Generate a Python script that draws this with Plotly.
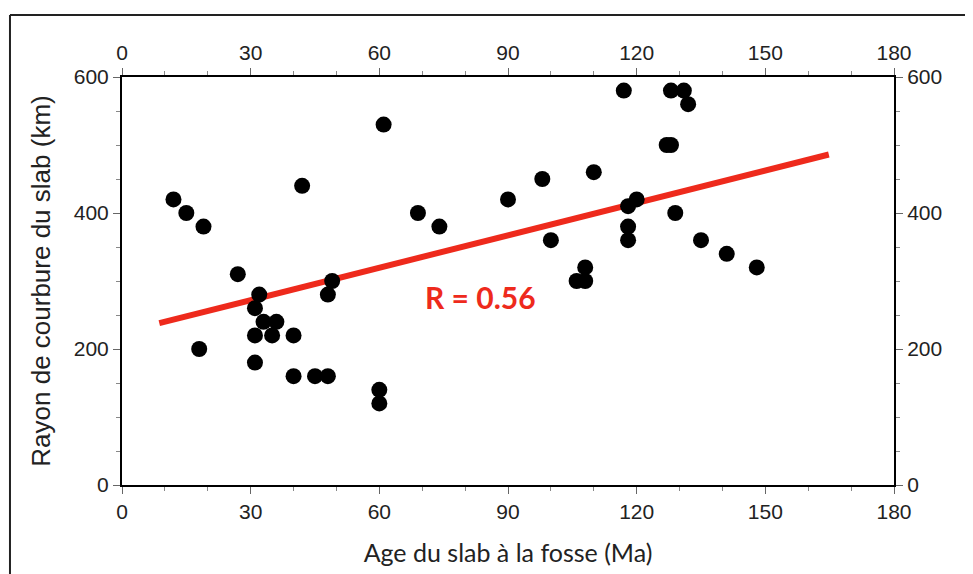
import plotly.graph_objects as go

# Data: age of slab at trench (Ma) and slab curvature radius (km)
age_ma = [12, 15, 19, 18, 27, 32, 31, 33, 36, 31, 35, 40, 31, 40, 45, 48,
          49, 48, 42, 61, 60, 60, 69, 74, 90, 98, 100, 110, 108, 106, 108,
          117, 118, 120, 118, 118, 127, 128, 128, 131, 132, 129, 135, 141, 148]
radius_km = [420, 400, 380, 200, 310, 280, 260, 240, 240, 220, 220, 220, 180, 160, 160, 160,
             300, 280, 440, 530, 140, 120, 400, 380, 420, 450, 360, 460, 320, 300, 300,
             580, 410, 420, 380, 360, 500, 500, 580, 580, 560, 400, 360, 340, 320]

# Regression line end points
fit_x = [8.7, 164.8]
fit_y = [238, 486]

x_ticks = [0, 30, 60, 90, 120, 150, 180]
y_ticks = [0, 200, 400, 600]

x_title = "Age du slab à la fosse (Ma)"
y_title = "Rayon de courbure du slab (km)"
r_label = "R = 0.56"

RED = "#ee2a1c"
TICKFONT = dict(family="Liberation Sans, Arial, sans-serif", size=21, color="#222222")

fig = go.Figure()
fig.add_trace(go.Scatter(x=fit_x, y=fit_y, mode="lines",
                         line=dict(color=RED, width=6), hoverinfo="skip", showlegend=False))
fig.add_trace(go.Scatter(x=age_ma, y=radius_km, mode="markers",
                         marker=dict(color="black", size=16, line=dict(width=0)),
                         showlegend=False))
# invisible trace to anchor top/right axes
fig.add_trace(go.Scatter(x=[None], y=[None], xaxis="x2", yaxis="y2",
                         showlegend=False, hoverinfo="skip"))

axis_common = dict(
    showgrid=False, zeroline=False, showline=True, linecolor="black", linewidth=2,
    ticks="outside", ticklen=7, tickwidth=1, tickcolor="#666666",
    tickfont=TICKFONT,
)

fig.update_layout(
    width=965, height=566,
    margin=dict(l=114, r=79, t=69, b=89),
    paper_bgcolor="white", plot_bgcolor="white",
    xaxis=dict(range=[0, 180], tickvals=x_ticks, ticktext=[str(v) for v in x_ticks],
               minor=dict(tickvals=list(range(0, 181, 10)), ticks="outside", ticklen=4,
                          tickcolor="#888888", tickwidth=1),
               title=dict(text=x_title, standoff=22,
                          font=dict(family="Lato, Liberation Sans, sans-serif", size=25, color="#222222")),
               **axis_common),
    yaxis=dict(range=[0, 600], tickvals=y_ticks, ticktext=[str(v) for v in y_ticks],
               minor=dict(tickvals=list(range(0, 601, 50)), ticks="outside", ticklen=4,
                          tickcolor="#888888", tickwidth=1),
               title=dict(text=y_title, standoff=16,
                          font=dict(family="Liberation Sans, Arial, sans-serif", size=26, color="#222222")),
               **axis_common),
    xaxis2=dict(range=[0, 180], overlaying="x", side="top", anchor="y",
                tickvals=x_ticks, ticktext=[str(v) for v in x_ticks],
                minor=dict(tickvals=list(range(0, 181, 10)), ticks="outside", ticklen=4,
                           tickcolor="#888888", tickwidth=1),
                **axis_common),
    yaxis2=dict(range=[0, 600], overlaying="y", side="right", anchor="x",
                tickvals=y_ticks, ticktext=[str(v) for v in y_ticks],
                minor=dict(tickvals=list(range(0, 601, 50)), ticks="outside", ticklen=4,
                           tickcolor="#888888", tickwidth=1),
                **axis_common),
)

fig.add_annotation(x=83.7, y=276, xref="x", yref="y", text="<b>" + r_label + "</b>",
                   showarrow=False,
                   font=dict(family="Lato, Liberation Sans, sans-serif", size=30, color=RED))

# outer frame (top and left edges visible)
fig.add_shape(type="line", xref="paper", yref="paper", x0=-0.1451, x1=1.11, y0=1.152, y1=1.152,
              line=dict(color="#222222", width=2))
fig.add_shape(type="line", xref="paper", yref="paper", x0=-0.1451, x1=-0.1451, y0=1.152, y1=-0.25,
              line=dict(color="#222222", width=2))

fig.write_html("out.html")
